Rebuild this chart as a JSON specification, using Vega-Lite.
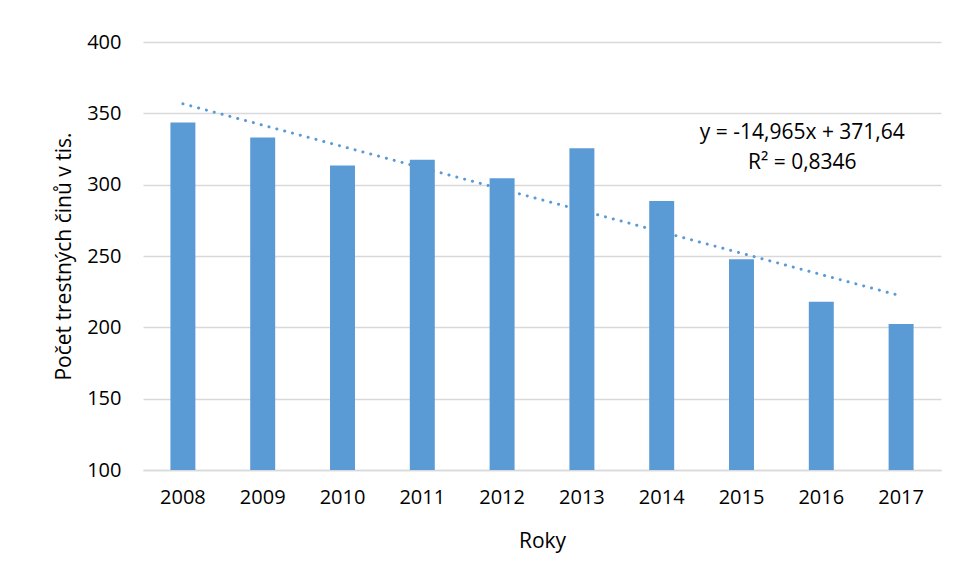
{
  "$schema": "https://vega.github.io/schema/vega-lite/v6.json",
  "autosize": {"type": "none"},
  "width": 798,
  "height": 428,
  "padding": {"left": 143, "top": 42, "right": 15, "bottom": 110},
  "background": "white",
  "config": {
    "font": "Open Sans",
    "view": {"stroke": null}
  },
  "data": {
    "values": [
      {"rok": "2008", "pocet": 343.5, "trend": 356.68},
      {"rok": "2009", "pocet": 333.0, "trend": 341.71},
      {"rok": "2010", "pocet": 313.5, "trend": 326.75},
      {"rok": "2011", "pocet": 317.5, "trend": 311.78},
      {"rok": "2012", "pocet": 304.5, "trend": 296.82},
      {"rok": "2013", "pocet": 325.5, "trend": 281.85},
      {"rok": "2014", "pocet": 288.5, "trend": 266.89},
      {"rok": "2015", "pocet": 247.8, "trend": 251.92},
      {"rok": "2016", "pocet": 218.0, "trend": 236.96},
      {"rok": "2017", "pocet": 202.3, "trend": 221.99}
    ]
  },
  "encoding": {
    "x": {
      "field": "rok",
      "type": "ordinal",
      "scale": {"paddingInner": 0.687, "paddingOuter": 0.3435},
      "axis": {
        "title": "Roky",
        "titleFont": "Open Sans",
        "titleFontSize": 21,
        "titleFontWeight": "normal",
        "titleColor": "#000000",
        "titlePadding": 23,
        "labelAngle": 0,
        "labelFont": "Open Sans",
        "labelFontSize": 20,
        "labelColor": "#000000",
        "labelPadding": 17,
        "ticks": false,
        "domain": true,
        "domainColor": "#d9d9d9",
        "domainWidth": 1.5,
        "grid": false
      }
    }
  },
  "layer": [
    {
      "mark": {"type": "bar", "color": "#5b9bd5"},
      "encoding": {
        "y": {
          "field": "pocet",
          "type": "quantitative",
          "scale": {"domain": [100, 400], "zero": false, "nice": false},
          "axis": {
            "title": "Počet trestných činů v tis.",
            "titleFont": "Open Sans",
            "titleFontSize": 21,
            "titleFontWeight": "normal",
            "titleColor": "#000000",
            "titlePadding": 12,
            "values": [100, 150, 200, 250, 300, 350, 400],
            "labelFont": "Open Sans",
            "labelFontSize": 20,
            "labelColor": "#000000",
            "labelPadding": 22,
            "ticks": false,
            "domain": false,
            "grid": true,
            "gridColor": "#d9d9d9",
            "gridWidth": 1.5
          }
        },
        "y2": {"datum": 100}
      }
    },
    {
      "mark": {"type": "line", "color": "#5b9bd5", "strokeWidth": 3, "strokeDash": [0.1, 8], "strokeCap": "round"},
      "encoding": {
        "y": {"field": "trend", "type": "quantitative"}
      }
    },
    {
      "data": {
        "values": [
          {"rok": "2016", "v": 336.5, "t": "y = -14,965x + 371,64"},
          {"rok": "2016", "v": 315.5, "t": "R² = 0,8346"}
        ]
      },
      "mark": {"type": "text", "font": "Open Sans", "fontSize": 21, "color": "#000000", "dx": -19, "align": "center", "baseline": "middle"},
      "encoding": {
        "y": {"field": "v", "type": "quantitative"},
        "text": {"field": "t"}
      }
    }
  ]
}
